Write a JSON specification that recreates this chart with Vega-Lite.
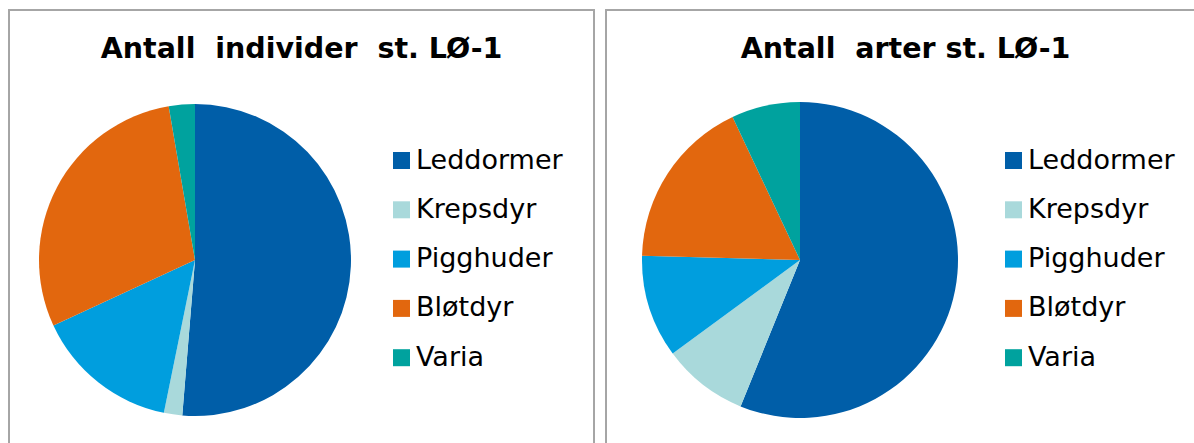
{
  "$schema": "https://vega.github.io/schema/vega-lite/v6.json",
  "padding": {"left": 8, "top": 9, "right": 0, "bottom": 0},
  "spacing": 10,
  "background": "white",
  "config": {
    "view": {"stroke": null},
    "title": {"font": "DejaVu Sans", "fontSize": 28.5, "fontWeight": "bold", "color": "#000000", "anchor": "middle", "offset": -54},
    "legend": {
      "orient": "none",
      "labelFont": "DejaVu Sans",
      "labelFontSize": 27,
      "labelColor": "#000000",
      "symbolType": "square",
      "symbolSize": 289,
      "symbolStrokeWidth": 0,
      "symbolOpacity": 1,
      "labelOffset": 1,
      "rowPadding": 21.3,
      "title": null
    }
  },
  "hconcat": [
    {
      "width": 585,
      "height": 450,
      "title": "Antall\u00a0 individer\u00a0 st. LØ-1",
      "data": {"values": [
        {"group": "Leddormer", "idx": 1, "value": 51.3},
        {"group": "Krepsdyr", "idx": 2, "value": 1.9},
        {"group": "Pigghuder", "idx": 3, "value": 14.9},
        {"group": "Bløtdyr", "idx": 4, "value": 29.2},
        {"group": "Varia", "idx": 5, "value": 2.7}
      ]},
      "layer": [
        {
          "mark": {"type": "rect", "fill": null, "stroke": "#a6a6a6", "strokeWidth": 1.4},
          "encoding": {}
        },
        {
          "mark": {"type": "arc", "x": 186, "y": 250, "outerRadius": 156},
          "encoding": {
            "theta": {"field": "value", "type": "quantitative", "stack": true},
            "order": {"field": "idx", "type": "quantitative"},
            "color": {
              "field": "group", "type": "nominal",
              "scale": {"domain": ["Leddormer", "Krepsdyr", "Pigghuder", "Bløtdyr", "Varia"], "range": ["#005EA8", "#A9D9DB", "#009EDE", "#E2670E", "#00A29E"]},
              "legend": {"legendX": 379, "legendY": 137, "title": null}
            }
          }
        }
      ]
    },
    {
      "width": 599,
      "height": 450,
      "title": "Antall\u00a0 arter st. LØ-1",
      "data": {"values": [
        {"group": "Leddormer", "idx": 1, "value": 32},
        {"group": "Krepsdyr", "idx": 2, "value": 5},
        {"group": "Pigghuder", "idx": 3, "value": 6},
        {"group": "Bløtdyr", "idx": 4, "value": 10},
        {"group": "Varia", "idx": 5, "value": 4}
      ]},
      "layer": [
        {
          "mark": {"type": "rect", "fill": null, "stroke": "#a6a6a6", "strokeWidth": 1.4},
          "encoding": {}
        },
        {
          "mark": {"type": "arc", "x": 194, "y": 250, "outerRadius": 158},
          "encoding": {
            "theta": {"field": "value", "type": "quantitative", "stack": true},
            "order": {"field": "idx", "type": "quantitative"},
            "color": {
              "field": "group", "type": "nominal",
              "scale": {"domain": ["Leddormer", "Krepsdyr", "Pigghuder", "Bløtdyr", "Varia"], "range": ["#005EA8", "#A9D9DB", "#009EDE", "#E2670E", "#00A29E"]},
              "legend": {"legendX": 394, "legendY": 137, "title": null}
            }
          }
        }
      ]
    }
  ],
  "resolve": {"scale": {"color": "independent"}, "legend": {"color": "independent"}}
}
